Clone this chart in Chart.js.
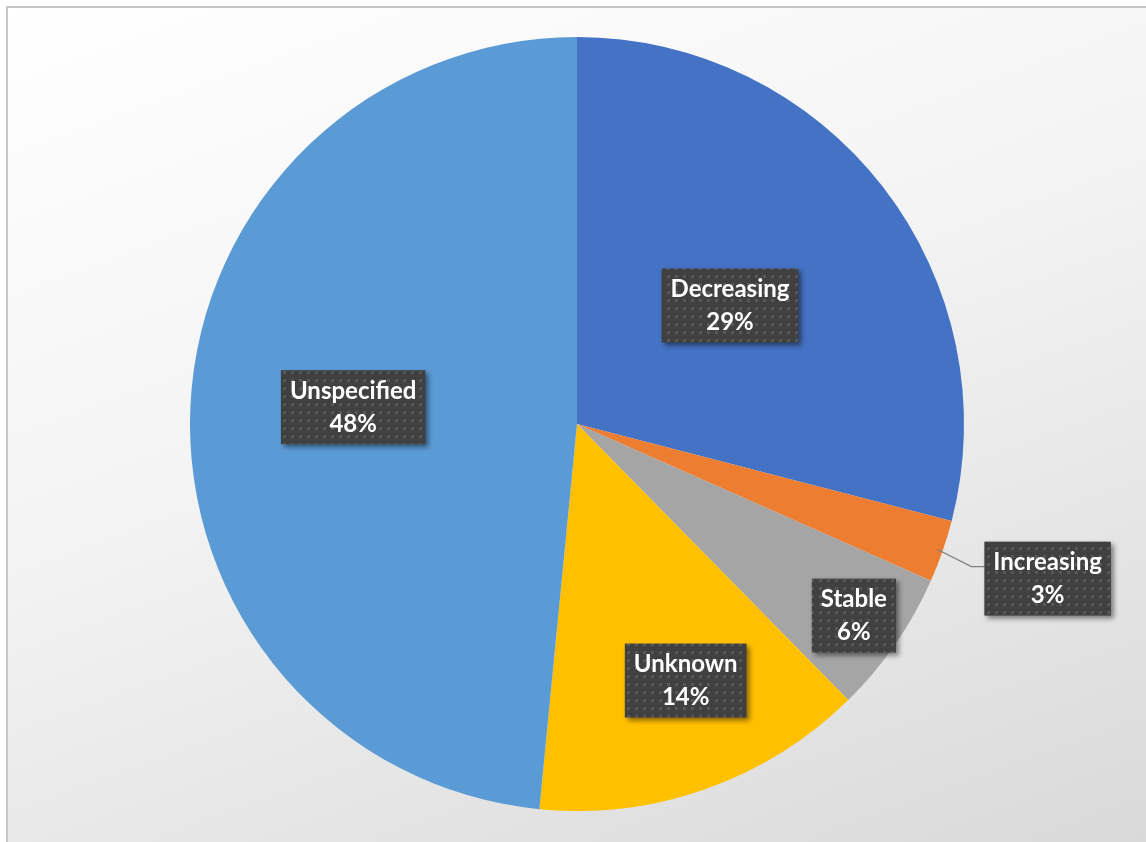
<!DOCTYPE html>
<html>
<head>
<meta charset="utf-8">
<script src="https://cdn.jsdelivr.net/npm/chart.js@4"></script>
<style>
  html, body { margin: 0; padding: 0; width: 1146px; height: 842px; overflow: hidden; background: #fff; }
  #frame {
    position: absolute; left: 6px; top: 6px; width: 1140px; height: 834px;
    border: 2px solid #c6c6c6; border-right: none;
    background: linear-gradient(160deg, #ffffff 0%, #f3f3f3 45%, #d9d9d9 100%);
  }
  #wrap { position: absolute; left: 0; top: 0; width: 1146px; height: 842px; }
</style>
</head>
<body>
<div id="frame"></div>
<div id="wrap"><canvas id="pie"></canvas></div>
<script>
const labels = ["Decreasing", "Increasing", "Stable", "Unknown", "Unspecified"];
const values = [29.0, 2.6, 6.0, 13.9, 48.4];
const colors = ["#4472C4", "#ED7D31", "#A5A5A5", "#FFC000", "#5B9BD5"];

// dotted dark fill used by the label boxes
function makePattern(ctx) {
  const p = document.createElement("canvas");
  p.width = 8; p.height = 8;
  const c = p.getContext("2d");
  c.fillStyle = "#404040";
  c.fillRect(0, 0, 8, 8);
  c.fillStyle = "#575757";
  c.fillRect(3, 3, 3, 3);
  return ctx.createPattern(p, "repeat");
}

// Excel-style data labels: dark box, white bold text, one outside with a leader line
const boxLabels = {
  id: "boxLabels",
  afterDatasetsDraw(chart, args, opts) {
    const ctx = chart.ctx;
    const meta = chart.getDatasetMeta(0);
    const total = values.reduce((a, b) => a + b, 0);
    const pattern = makePattern(ctx);
    ctx.save();
    ctx.font = "bold 24px Lato";
    ctx.textAlign = "center";
    ctx.textBaseline = "middle";
    meta.data.forEach((arc, i) => {
      const mid = (arc.startAngle + arc.endAngle) / 2 + opts.turn[i] * Math.PI / 180;
      const f = opts.radius[i];
      let x = arc.x + Math.cos(mid) * arc.outerRadius * f;
      let y = arc.y + Math.sin(mid) * arc.outerRadius * f;
      const line1 = labels[i];
      const line2 = Math.round(values[i] / total * 100) + "%";
      const w = Math.max(ctx.measureText(line1).width, ctx.measureText(line2).width) + 18;
      const h = 74;
      if (opts.outside[i]) {
        // leader line from slice edge to the box
        const m0 = (arc.startAngle + arc.endAngle) / 2;
        const ex = arc.x + Math.cos(m0) * arc.outerRadius * 0.985;
        const ey = arc.y + Math.sin(m0) * arc.outerRadius * 0.985;
        const bx = x - w / 2;
        ctx.strokeStyle = "#7f7f7f";
        ctx.lineWidth = 1.3;
        ctx.beginPath();
        ctx.moveTo(ex, ey);
        ctx.lineTo(bx - 13, y - 12);
        ctx.lineTo(bx, y - 12);
        ctx.stroke();
      }
      ctx.save();
      ctx.shadowColor = "rgba(0,0,0,0.45)";
      ctx.shadowBlur = 5;
      ctx.shadowOffsetX = 3;
      ctx.shadowOffsetY = 3;
      ctx.fillStyle = pattern;
      ctx.fillRect(x - w / 2, y - h / 2, w, h);
      ctx.restore();
      ctx.fillStyle = "#ffffff";
      ctx.fillText(line1, x, y - 16);
      ctx.fillText(line2, x, y + 17);
    });
    ctx.restore();
  }
};

new Chart(document.getElementById("pie"), {
  type: "pie",
  data: {
    labels: labels,
    datasets: [{
      data: values,
      backgroundColor: colors,
      borderWidth: 0
    }]
  },
  options: {
    responsive: true,
    maintainAspectRatio: false,
    animation: false,
    layout: { padding: { top: 37, bottom: 31, left: 8, right: 0 } },
    plugins: {
      legend: { display: false },
      tooltip: { enabled: false },
      boxLabels: {
        radius: [0.5, 1.28, 0.87, 0.72, 0.58],
        turn: [0, -1, 0, -3.5, 1.5],
        outside: [false, true, false, false, false]
      }
    }
  },
  plugins: [boxLabels]
});
</script>
</body>
</html>
